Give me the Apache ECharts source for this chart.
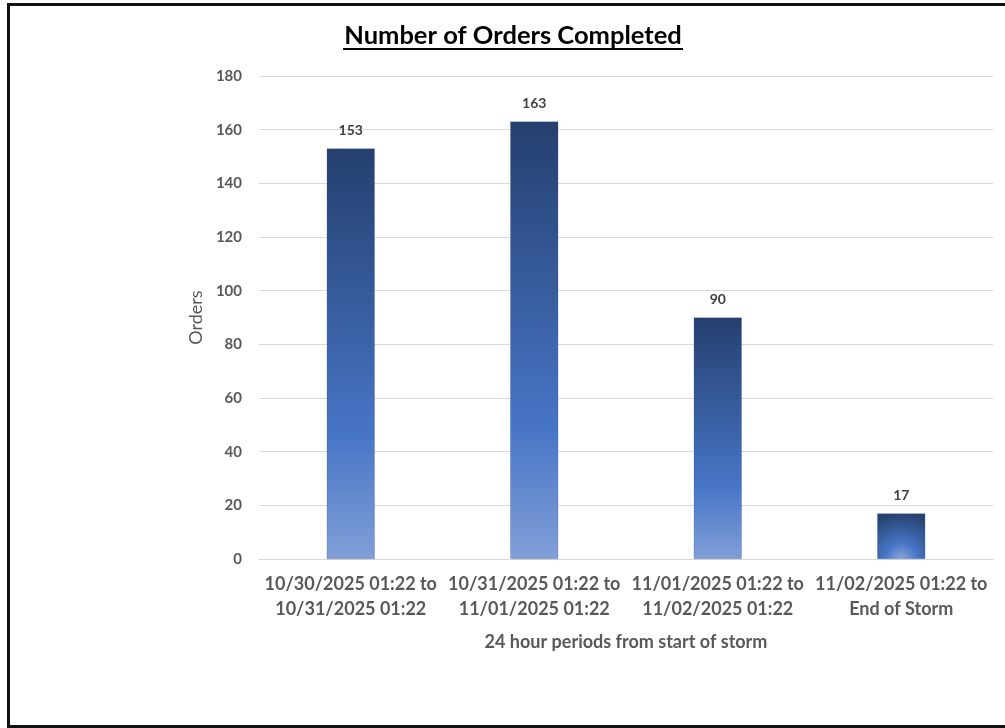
<!DOCTYPE html>
<html lang="en">
<head>
    <meta charset="UTF-8">
    <title>chart</title>
    <script src="https://cdn.jsdelivr.net/npm/echarts@6/dist/echarts.min.js"></script>
    <style>
        html, body {
            margin: 0;
            height: 100%;
            overflow: hidden;
            background: #fff;
        }
        #frame {
            position: absolute;
            left: 7px;
            top: 3px;
            width: 1100px;
            height: 719px;
            border: 3px solid #111;
        }
        #app {
            position: absolute;
            left: 0;
            top: 0;
            width: 1005px;
            height: 728px;
        }
    </style>
</head>
<body>
<div id="frame"></div>
<div id="app"></div>
<script>
    var categories = [
        '10/30/2025 01:22 to\n10/31/2025 01:22',
        '10/31/2025 01:22 to\n11/01/2025 01:22',
        '11/01/2025 01:22 to\n11/02/2025 01:22',
        '11/02/2025 01:22 to\nEnd of Storm'
    ];
    var orders = [153, 163, 90, 17];
    var yTicks = [0, 20, 40, 60, 80, 100, 120, 140, 160, 180];

    var font = 'Lato, "Open Sans", sans-serif';

    // excel style gradient: short bars look radial from bottom centre
    function barColor(params) {
        if (params.value < 30) {
            return new echarts.graphic.RadialGradient(0.5, 1, 1, [
                {offset: 0, color: '#8aa6dc'},
                {offset: 0.35, color: '#4775c6'},
                {offset: 1, color: '#26426f'}
            ]);
        }
        return new echarts.graphic.LinearGradient(0, 0, 0, 1, [
            {offset: 0, color: '#253f6e'},
            {offset: 0.7, color: '#4775c6'},
            {offset: 1, color: '#819fd8'}
        ]);
    }

    var option = {
        animation: false,
        textStyle: {fontFamily: font},
        grid: {left: 259, right: 12, top: 76, bottom: 169},
        graphic: [
            {
                type: 'text',
                x: 513,
                y: 23,
                style: {
                    text: 'Number of Orders Completed',
                    font: 'bold 25.5px ' + font,
                    fill: '#000',
                    align: 'center'
                }
            },
            {
                type: 'rect',
                shape: {x: 343, y: 48, width: 340, height: 2},
                style: {fill: '#000'}
            }
        ],
        xAxis: {
            type: 'category',
            data: categories,
            name: '24 hour periods from start of storm',
            nameLocation: 'middle',
            nameGap: 74,
            nameTextStyle: {fontSize: 18, fontWeight: 'bold', color: '#595959'},
            axisLine: {lineStyle: {color: '#d9d9d9'}},
            axisTick: {show: false},
            axisLabel: {
                fontSize: 18,
                fontWeight: 'bold',
                color: '#595959',
                lineHeight: 25,
                margin: 13,
                interval: 0
            }
        },
        yAxis: {
            type: 'value',
            min: yTicks[0],
            max: yTicks[yTicks.length - 1],
            interval: yTicks[1] - yTicks[0],
            name: 'Orders',
            nameLocation: 'middle',
            nameGap: 52,
            nameTextStyle: {fontSize: 18, color: '#595959'},
            axisLine: {show: false},
            axisTick: {show: false},
            axisLabel: {
                fontSize: 15,
                fontWeight: 'bold',
                color: '#595959',
                margin: 17
            },
            splitLine: {lineStyle: {color: '#d9d9d9'}}
        },
        series: [
            {
                type: 'bar',
                data: orders,
                barWidth: 48,
                itemStyle: {
                    color: barColor,
                    borderColor: 'rgba(47,82,143,0.5)',
                    borderWidth: 0.5
                },
                label: {
                    show: true,
                    position: 'top',
                    distance: 11,
                    fontSize: 14,
                    fontWeight: 'bold',
                    color: '#404040'
                }
            }
        ]
    };

    var myChart = echarts.init(document.getElementById('app'));
    myChart.setOption(option);
</script>
</body>
</html>
